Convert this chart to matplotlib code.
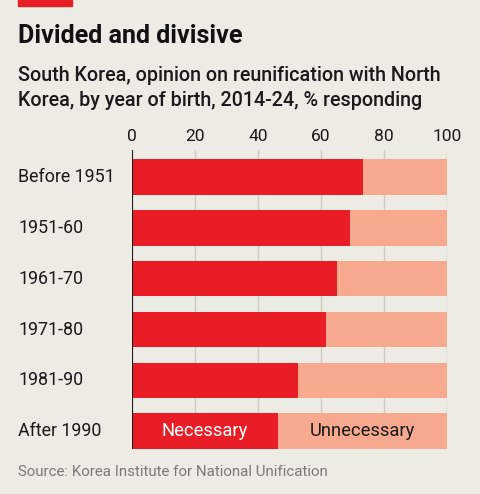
import matplotlib.pyplot as plt

plt.rcParams['font.family'] = ['Roboto', 'DejaVu Sans']

cohorts = ["Before 1951", "1951-60", "1961-70", "1971-80", "1981-90", "After 1990"]
necessary = [73.4, 69.3, 65.2, 61.7, 52.7, 46.3]
unnecessary = [100 - v for v in necessary]
ticks = [0, 20, 40, 60, 80, 100]

bg = '#ECEBE4'
red = '#E91D25'
salmon = '#F6A98E'

fig = plt.figure(figsize=(4.8, 4.94), dpi=100, facecolor=bg)
ax = fig.add_axes([132 / 480, 1 - 449 / 494, (447 - 132) / 480, 299 / 494])
ax.set_facecolor(bg)

y = range(len(cohorts))
ax.barh(y, necessary, height=0.7, color=red, zorder=2)
ax.barh(y, unnecessary, left=necessary, height=0.7, color=salmon, zorder=2)

ax.set_xlim(0, 100)
ax.set_ylim(5.35, -0.53)
ax.set_xticks(ticks)
ax.xaxis.tick_top()
ax.tick_params(axis='x', length=0, pad=4, labelsize=12.5, labelcolor='#1a1a1a')
ax.set_yticks([])
for s in ax.spines.values():
    s.set_visible(False)
ax.grid(axis='x', color='#CFCBC2', linewidth=1, zorder=1)
ax.axvline(0, color='#1a1a1a', linewidth=1.5, zorder=3)

for i, lab in enumerate(cohorts):
    fig.text(18 / 480, ax.transData.transform((0, i))[1] / fig.bbox.height, lab,
             fontsize=12.9, color='#1a1a1a', va='center', ha='left')

last = len(cohorts) - 1
ax.text(necessary[last] / 2, last, "Necessary", color='white', fontsize=13.2,
        ha='center', va='center', zorder=4)
ax.text(necessary[last] + unnecessary[last] / 2, last, "Unnecessary", color='#1a1a1a',
        fontsize=13.2, ha='center', va='center', zorder=4)

fig.patches.append(plt.Rectangle((18 / 480, 1 - 6 / 494), 54 / 480, 6 / 494,
                                 transform=fig.transFigure, color=red))
fig.text(18 / 480, 1 - 36 / 494, "Divided and divisive", fontsize=18.1,
         fontweight='bold', color='#111111', va='center')
fig.text(18 / 480, 1 - 75 / 494, "South Korea, opinion on reunification with North",
         fontsize=14.2, fontweight='medium', color='#1a1a1a', va='center')
fig.text(18 / 480, 1 - 101 / 494, "Korea, by year of birth, 2014-24, % responding",
         fontsize=14.2, fontweight='medium', color='#1a1a1a', va='center')
fig.text(18 / 480, 1 - 472 / 494, "Source: Korea Institute for National Unification",
         fontsize=10.9, color='#7a7a7a', va='center')

fig.savefig('out.png', dpi=100, facecolor=bg)
